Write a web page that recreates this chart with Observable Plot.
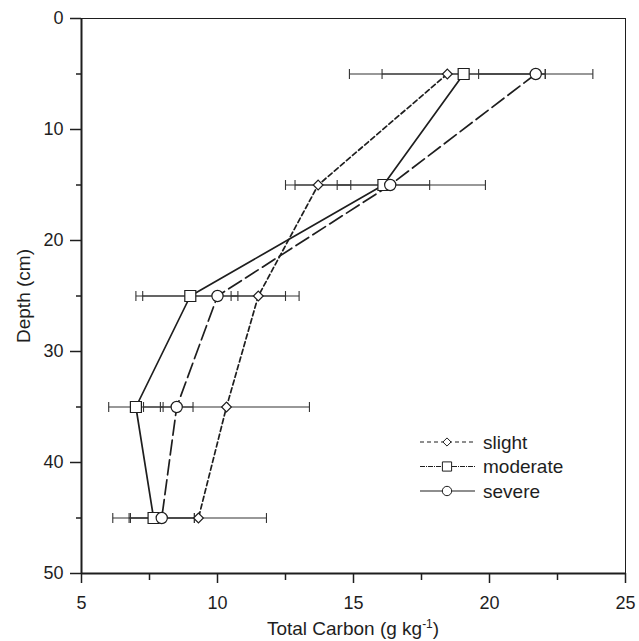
<!DOCTYPE html>
<html><head><meta charset="utf-8">
<script src="https://cdn.jsdelivr.net/npm/d3@7"></script>
<script src="https://cdn.jsdelivr.net/npm/@observablehq/plot@0.6"></script>
<style>
body{margin:0;background:#fff}
#wrap{position:relative;width:639px;height:641px;font-family:"Liberation Sans",Arial,sans-serif}
#legend{position:absolute;left:0;top:0}
</style>
</head><body><div id="wrap"></div>
<script>
// Data
const depths = [5, 15, 25, 35, 45];
const slight = [18.45, 13.7, 11.5, 10.33, 9.3];
const slightErr = [3.6, 1.2, 1.0, 3.05, 2.5];
const moderate = [19.05, 16.1, 9.0, 7.0, 7.65];
const moderateErr = [3.0, 1.7, 1.75, 1.0, 1.5];
const severe = [21.7, 16.35, 10.0, 8.5, 7.95];
const severeErr = [2.1, 3.5, 3.0, 0.6, 1.2];
const yTicks = [0, 10, 20, 30, 40, 50];
const yMinor = [5, 15, 25, 35, 45];
const xTicks = [5, 10, 15, 20, 25];
const xMinor = [7.5, 12.5, 17.5, 22.5];
const seriesNames = ["slight", "moderate", "severe"];

const ink = "#1e1e1e";
const fs = 18;
const series = [
  {name: "slight", vals: slight, errs: slightErr, symbol: "diamond2", r: 4.4, dash: "5,3", legendDash: "4,3"},
  {name: "moderate", vals: moderate, errs: moderateErr, symbol: "square", r: 6.2, dash: null, legendDash: "5,1,1,1"},
  {name: "severe", vals: severe, errs: severeErr, symbol: "circle", r: 5.6, dash: "15,5", legendDash: null}
];
const rows = series.flatMap(s => depths.map((d, i) => ({series: s.name, depth: d, v: s.vals[i], lo: s.vals[i] - s.errs[i], hi: s.vals[i] + s.errs[i]})));

const capSymbol = {draw(ctx, size) { const h = Math.sqrt(size) / 2; ctx.moveTo(0, -h); ctx.lineTo(0, h); }};

const marks = [];
// error bars
marks.push(Plot.link(rows, {x1: "lo", x2: "hi", y1: "depth", y2: "depth", stroke: "#333", strokeWidth: 1.1}));
marks.push(Plot.dot(rows, {x: "lo", y: "depth", symbol: capSymbol, r: 5.6, stroke: "#333", fill: "none", strokeWidth: 1.1}));
marks.push(Plot.dot(rows, {x: "hi", y: "depth", symbol: capSymbol, r: 5.6, stroke: "#333", fill: "none", strokeWidth: 1.1}));
// lines and markers
for (const s of series) {
  const data = rows.filter(d => d.series === s.name);
  marks.push(Plot.line(data, {x: "v", y: "depth", stroke: ink, strokeWidth: 1.7, strokeDasharray: s.dash || undefined, curve: "linear"}));
}
for (const s of series) {
  const data = rows.filter(d => d.series === s.name);
  marks.push(Plot.dot(data, {x: "v", y: "depth", symbol: s.symbol, r: s.r, stroke: ink, fill: "white", strokeWidth: 1.2}));
}
// frame and axes
marks.push(Plot.frame({stroke: ink, strokeWidth: 1}));
marks.push(Plot.ruleX([5], {stroke: ink, strokeWidth: 2}));
marks.push(Plot.ruleY([50], {stroke: ink, strokeWidth: 2}));
marks.push(Plot.axisY({ticks: yTicks, tickSize: 11, tickPadding: 7, tickFormat: d => String(d), fontSize: fs, label: null, stroke: ink, strokeWidth: 1.5}));
marks.push(Plot.axisY({ticks: yMinor, tickSize: 5, tickFormat: null, text: null, label: null, stroke: ink, strokeWidth: 1.5}));
marks.push(Plot.axisX({ticks: xTicks, tickSize: 10, tickPadding: 13, tickFormat: d => String(d), fontSize: fs, label: null, stroke: ink, strokeWidth: 1.5}));
marks.push(Plot.axisX({ticks: xMinor, tickSize: 7, text: null, tickFormat: null, label: null, stroke: ink, strokeWidth: 1.5}));

const chart = Plot.plot({
  width: 639, height: 641,
  marginLeft: 81, marginRight: 14, marginTop: 18, marginBottom: 68,
  style: {fontFamily: '"Liberation Sans", Arial, sans-serif', color: ink, background: "white"},
  x: {domain: [5, 25]},
  y: {domain: [0, 50], reverse: true},
  marks
});
const wrap = document.getElementById("wrap");
wrap.appendChild(chart);

// axis titles and legend overlay
const svg = d3.select(wrap).append("svg").attr("id", "legend").attr("width", 639).attr("height", 641)
  .style("font-family", '"Liberation Sans", Arial, sans-serif').attr("fill", ink);
svg.append("text").attr("transform", "translate(30,296) rotate(-90)").attr("text-anchor", "middle")
  .attr("font-size", 19).text("Depth (cm)");
const xt = svg.append("text").attr("x", 353).attr("y", 635).attr("text-anchor", "middle").attr("font-size", 19);
xt.append("tspan").text("Total Carbon (g kg");
xt.append("tspan").attr("dy", -7).attr("font-size", 12).text("-1");
xt.append("tspan").attr("dy", 7).text(")");

const lg = svg.append("g");
series.forEach((s, i) => {
  const y = 442 + i * 24.5;
  const g = lg.append("g");
  g.append("line").attr("x1", 420).attr("x2", 475).attr("y1", y).attr("y2", y)
    .attr("stroke", ink).attr("stroke-width", 1.2).attr("stroke-dasharray", s.legendDash);
  const sym = d3.symbol().type({diamond2: d3.symbolDiamond2, square: d3.symbolSquare, circle: d3.symbolCircle}[s.symbol]).size(Math.PI * s.r * s.r * 0.7);
  g.append("path").attr("d", sym()).attr("transform", `translate(447,${y})`).attr("fill", "white").attr("stroke", ink);
  g.append("text").attr("x", 483).attr("y", y).attr("dy", "0.35em").attr("font-size", 19).text(seriesNames[i]);
});
</script>
</body></html>
